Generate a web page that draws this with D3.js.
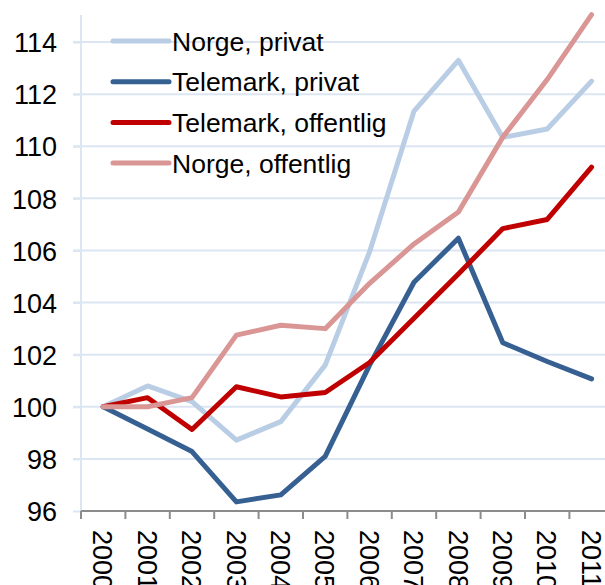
<!DOCTYPE html>
<html>
<head>
<meta charset="utf-8">
<script src="https://cdn.jsdelivr.net/npm/d3@7"></script>
<style>
  html, body { margin: 0; padding: 0; background: #fff; }
  svg { display: block; font-family: "Liberation Sans", Arial, sans-serif; }
  .grid line { stroke: #dce6f2; stroke-width: 2; }
  .yaxis path, .yaxis line { stroke: #dce6f2; stroke-width: 2; }
  .yaxis text, .xlab { fill: #000; font-size: 27px; }
  .legend text { font-size: 26.5px; fill: #000; }
</style>
</head>
<body>
<svg id="chart" width="605" height="585"></svg>
<script>
const years = ["2000","2001","2002","2003","2004","2005","2006","2007","2008","2009","2010","2011"];
const yTicks = [96, 98, 100, 102, 104, 106, 108, 110, 112, 114];
const seriesNames = ["Norge, privat", "Telemark, privat", "Telemark, offentlig", "Norge, offentlig"];
const seriesColors = ["#b9cde5", "#376092", "#c00000", "#d99694"];
const norgePrivat = [100, 100.8, 100.2, 98.72, 99.43, 101.6, 105.95, 111.35, 113.3, 110.34, 110.66, 112.5];
const telemarkPrivat = [100, 99.15, 98.28, 96.35, 96.62, 98.1, 101.6, 104.78, 106.47, 102.46, 101.74, 101.07];
const telemarkOffentlig = [100, 100.35, 99.13, 100.77, 100.38, 100.55, 101.7, 103.4, 105.1, 106.84, 107.19, 109.2];
const norgeOffentlig = [100, 100, 100.35, 102.75, 103.13, 103.0, 104.74, 106.25, 107.48, 110.35, 112.56, 115.05];
const allSeries = [norgePrivat, telemarkPrivat, telemarkOffentlig, norgeOffentlig];

const svg = d3.select("#chart");
const mLeft = 81, mTop = 16, mBottom = 511, step = 44.4;

const x = d3.scaleBand().domain(years).range([mLeft, mLeft + step * years.length]).padding(0);
const y = d3.scaleLinear().domain([96, 115]).range([mBottom, mTop]);
const cx = d => x(d) + x.bandwidth() / 2;

// gridlines
svg.append("g").attr("class", "grid").selectAll("line").data(yTicks.filter(v => v > 96)).join("line")
  .attr("x1", mLeft - 8).attr("x2", 620).attr("y1", d => y(d)).attr("y2", d => y(d));

// y axis
const ya = svg.append("g").attr("class", "yaxis").attr("transform", `translate(${mLeft},0)`)
  .call(d3.axisLeft(y).tickValues(yTicks).tickSize(8).tickSizeOuter(0).tickPadding(16));
ya.select(".domain").attr("d", `M0,${y(115) - 1}V${mBottom}`);
ya.attr("font-family", null).attr("font-size", null);
ya.selectAll("text").attr("dy", "0.36em");

// x axis (grey baseline with ticks between categories)
const xa = svg.append("g").attr("class", "xaxis");
xa.append("line").attr("x1", mLeft).attr("x2", 620).attr("y1", mBottom).attr("y2", mBottom)
  .attr("stroke", "#8c8c8c").attr("stroke-width", 2);
xa.selectAll("line.tick").data(years).join("line").attr("class", "tick")
  .attr("x1", d => x(d)).attr("x2", d => x(d)).attr("y1", mBottom).attr("y2", mBottom + 8)
  .attr("stroke", "#8c8c8c").attr("stroke-width", 2);
xa.selectAll("text").data(years).join("text").attr("class", "xlab")
  .attr("transform", d => `translate(${cx(d)},${mBottom + 19}) rotate(90)`)
  .attr("dy", "0.36em").text(d => d);

// series lines
const line = d3.line().x((v, i) => cx(years[i])).y(v => y(v));
svg.append("g").selectAll("path").data(allSeries).join("path")
  .attr("d", line).attr("fill", "none")
  .attr("stroke", (d, i) => seriesColors[i]).attr("stroke-width", 5)
  .attr("stroke-linejoin", "round").attr("stroke-linecap", "round");

// legend
const lg = svg.append("g").attr("class", "legend").selectAll("g").data(seriesNames).join("g")
  .attr("transform", (d, i) => `translate(113,${41 + i * 40.7})`);
lg.append("line").attr("x1", 0).attr("x2", 56).attr("y1", 0).attr("y2", 0)
  .attr("stroke", (d, i) => seriesColors[i]).attr("stroke-width", 5).attr("stroke-linecap", "round");
lg.append("text").attr("x", 59).attr("dy", "0.36em").text(d => d);
</script>
</body>
</html>
